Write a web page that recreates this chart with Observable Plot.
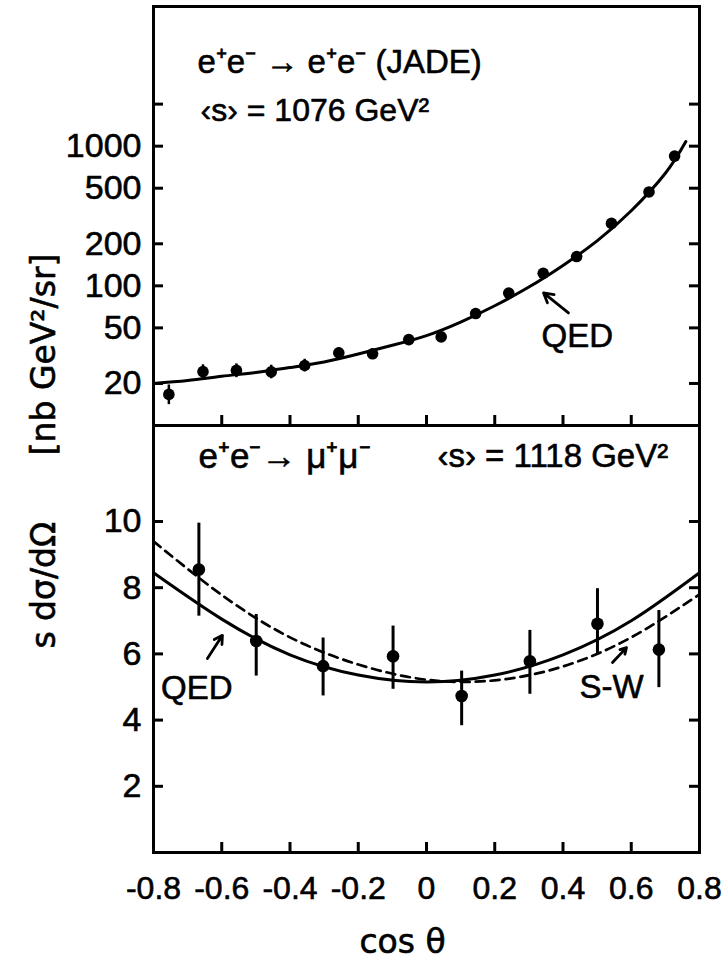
<!DOCTYPE html>
<html><head><meta charset="utf-8">
<script src="https://cdn.jsdelivr.net/npm/d3@7"></script>
<script src="https://cdn.jsdelivr.net/npm/@observablehq/plot@0.6"></script>
<style>
html,body{margin:0;padding:0;background:#fff;}
#wrap{position:relative;width:722px;height:962px;overflow:hidden;background:#fff;}
#wrap svg{position:absolute;left:0;overflow:visible;background:transparent;}
</style></head><body><div id="wrap"></div>
<script>
// ---------- Top panel: e+e- -> e+e- (JADE), log scale ----------
const bhabhaCos = [-0.755,-0.655,-0.557,-0.455,-0.357,-0.257,-0.158,-0.052,0.043,0.144,0.241,0.342,0.440,0.542,0.652,0.727];
const bhabhaVal = [16.7,24.3,24.8,24.2,26.9,33.1,32.6,41.2,43.1,63.3,88.7,123,162,280,470,849];
const bhabhaLo  = [14.1,21.5,22.0,21.6,24.2,30.5,30.0,38.0,40.0,59,83,115,152,262,440,795];
const bhabhaHi  = [19.5,27.2,27.6,27.0,29.8,36.0,35.4,44.5,46.5,68,95,131,172,298,500,905];
const qedTopCos = [-0.8,-0.7,-0.6,-0.5,-0.4,-0.3,-0.2,-0.1,0,0.1,0.2,0.3,0.4,0.5,0.6,0.7,0.76];
const qedTopVal = [20,21,22.5,24,26,28.5,32.5,37.5,44,55,72,98,140,210,345,640,1080];
const topYTicks  = [20,50,100,200,500,1000,2000];
const topYLabels = [20,50,100,200,500,1000];

// ---------- Bottom panel: e+e- -> mu+mu- ----------
const muCos = [-0.667,-0.499,-0.303,-0.098,0.103,0.303,0.501,0.681];
const muVal = [8.55,6.39,5.63,5.93,4.73,5.78,6.91,6.13];
const muLo  = [7.14,5.33,4.73,4.93,3.83,4.78,5.98,4.98];
const muHi  = [9.95,7.19,6.48,6.84,5.48,6.71,7.97,7.31];
const curveCos = [-0.8,-0.6,-0.4,-0.2,0,0.2,0.4,0.6,0.8];
const qedMuVal = [8.45,7.05,5.97,5.36,5.15,5.36,5.97,7.0,8.45];
const swMuVal  = [9.4,7.78,6.5,5.68,5.22,5.2,5.62,6.5,7.8];
const botYTicks = [2,4,6,8,10];

const xTicks  = [-0.6,-0.4,-0.2,0,0.2,0.4,0.6];
const xLabels = [-0.8,-0.6,-0.4,-0.2,0,0.2,0.4,0.6,0.8];

// annotations (data coordinates)
const topTexts = [
  {x:-0.671, y:3950, t:"e⁺e⁻ → e⁺e⁻ (JADE)", s:33},
  {x:-0.662, y:1790, t:"‹s› = 1076 GeV²", s:32},
];
const topQed = {x:0.442, y:43.3, t:"QED"};
const topArrow = [{x1:0.416, y1:64, x2:0.343, y2:89}];
const botTexts = [
  {x:-0.668, y:11.96, t:"e⁺e⁻→ μ⁺μ⁻", s:35},
  {x:0.032, y:11.96, t:"‹s› = 1118 GeV²", s:33},
];
const botLabels = [
  {x:-0.673, y:4.97, t:"QED"},
  {x:0.542, y:5.0, t:"S-W"},
];
const botArrows = [
  {x1:-0.642, y1:5.86, x2:-0.598, y2:6.56},
  {x1:0.545, y1:5.74, x2:0.586, y2:6.19},
];

const W = 722, ML = 153, MR = 23;
const XD = [-0.8, 0.8];
const dataPerPx = (XD[1]-XD[0])/(W-ML-MR);
const TL = 10; // tick length px
const FONT = "Liberation Sans, Arial, sans-serif";
const TS = {fill: "black", stroke: "black", strokeWidth: 0.6, paintOrder: "fill"};
const idx = a => a.map((_, i) => i);
const fmtX = d => d === 0 ? "0" : (d < 0 ? "-" : "") + Math.abs(d).toFixed(1);

const topH = 440, topMT = 6, topMB = 15;
const decadePx = (topH - topMT - topMB)/3;

const topPlot = Plot.plot({
  width: W, height: topH, marginLeft: ML, marginRight: MR, marginTop: topMT, marginBottom: topMB,
  style: {background: "transparent", overflow: "visible", fontFamily: FONT, color: "black"},
  x: {domain: XD, axis: null},
  y: {type: "log", domain: [10, 10000], axis: null},
  marks: [
    Plot.text(topYLabels, {x: XD[0], y: d => d, text: d => String(d), dx: -12, textAnchor: "end", lineAnchor: "middle", fontSize: 34, fontFamily: FONT, ...TS}),
    Plot.ruleY(topYTicks, {x1: XD[0], x2: XD[0] + TL*dataPerPx, strokeWidth: 3}),
    Plot.ruleY(topYTicks, {x1: XD[1] - TL*dataPerPx, x2: XD[1], strokeWidth: 3}),
    Plot.ruleX(xTicks, {y1: 10, y2: 10*Math.pow(10, TL/decadePx), strokeWidth: 3}),
    Plot.line(idx(qedTopCos), {x: i => qedTopCos[i], y: i => qedTopVal[i], curve: "natural", strokeWidth: 3}),
    Plot.ruleX(idx(bhabhaCos), {x: i => bhabhaCos[i], y1: i => bhabhaLo[i], y2: i => bhabhaHi[i], strokeWidth: 2.5}),
    Plot.dot(idx(bhabhaCos), {x: i => bhabhaCos[i], y: i => bhabhaVal[i], r: 5.8, fill: "black", stroke: "none"}),
    Plot.text(topTexts, {x: "x", y: "y", text: "t", fontSize: d => d.s, textAnchor: "start", lineAnchor: "middle", fontFamily: FONT, ...TS}),
    Plot.text([topQed], {x: "x", y: "y", text: "t", fontSize: 33, lineAnchor: "middle", fontFamily: FONT, ...TS}),
    Plot.arrow(topArrow, {x1: "x1", y1: "y1", x2: "x2", y2: "y2", strokeWidth: 2.8, headLength: 13}),
    Plot.text(["[nb GeV²/sr]"], {x: XD[0], y: 170, dx: -109, rotate: -90, textAnchor: "end", lineAnchor: "middle", fontSize: 33, fontFamily: "DejaVu Sans", ...TS}),
    Plot.frame({strokeWidth: 3})
  ]
});

const botTop = 410, botH = 552, botMT = 15, botMB = 110;
const unitPx = (botH - botMT - botMB)/12.9;

const botPlot = Plot.plot({
  width: W, height: botH, marginLeft: ML, marginRight: MR, marginTop: botMT, marginBottom: botMB,
  style: {background: "transparent", overflow: "visible", fontFamily: FONT, color: "black"},
  x: {domain: XD, axis: null},
  y: {domain: [0, 12.9], axis: null},
  marks: [
    Plot.text(botYTicks, {x: XD[0], y: d => d, text: d => String(d), dx: -12, textAnchor: "end", lineAnchor: "middle", fontSize: 34, fontFamily: FONT, ...TS}),
    Plot.text(xLabels, {x: d => d, y: 0, text: fmtX, dy: 36, lineAnchor: "middle", fontSize: 32, fontFamily: FONT, ...TS}),
    Plot.ruleY(botYTicks, {x1: XD[0], x2: XD[0] + TL*dataPerPx, strokeWidth: 3}),
    Plot.ruleY(botYTicks, {x1: XD[1] - TL*dataPerPx, x2: XD[1], strokeWidth: 3}),
    Plot.ruleX(xTicks, {y1: 0, y2: TL/unitPx, strokeWidth: 3}),
    Plot.line(idx(curveCos), {x: i => curveCos[i], y: i => qedMuVal[i], curve: "natural", strokeWidth: 3}),
    Plot.line(idx(curveCos), {x: i => curveCos[i], y: i => swMuVal[i], curve: "natural", strokeWidth: 2.7, strokeDasharray: "9,6"}),
    Plot.ruleX(idx(muCos), {x: i => muCos[i], y1: i => muLo[i], y2: i => muHi[i], strokeWidth: 3}),
    Plot.dot(idx(muCos), {x: i => muCos[i], y: i => muVal[i], r: 6.3, fill: "black", stroke: "none"}),
    Plot.text(botTexts, {x: "x", y: "y", text: "t", fontSize: d => d.s, textAnchor: "start", lineAnchor: "middle", fontFamily: FONT, ...TS}),
    Plot.text(botLabels, {x: "x", y: "y", text: "t", fontSize: 33, lineAnchor: "middle", fontFamily: FONT, ...TS}),
    Plot.arrow(botArrows, {x1: "x1", y1: "y1", x2: "x2", y2: "y2", strokeWidth: 2.8, headLength: 11}),
    Plot.text(["s dσ/dΩ"], {x: XD[0], y: 6.16, dx: -109, rotate: -90, textAnchor: "start", lineAnchor: "middle", fontSize: 33, fontFamily: "DejaVu Sans", ...TS}),
    Plot.text(["cos θ"], {frameAnchor: "bottom", dx: -24, dy: 90, lineAnchor: "middle", fontSize: 33, fontFamily: "DejaVu Sans", ...TS}),
    Plot.frame({strokeWidth: 3})
  ]
});

const wrap = document.getElementById("wrap");
topPlot.style.top = "0px";
botPlot.style.top = botTop + "px";
wrap.appendChild(topPlot);
wrap.appendChild(botPlot);
</script>
</body></html>
